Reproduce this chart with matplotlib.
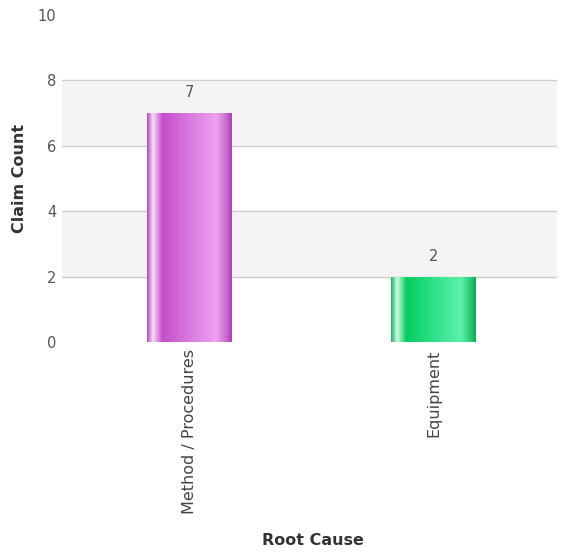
import numpy as np
import matplotlib
matplotlib.use("Agg")
import matplotlib.pyplot as plt
from matplotlib.colors import LinearSegmentedColormap

categories = ["Method / Procedures", "Equipment"]
claim_counts = [7, 2]
y_ticks = [0, 2, 4, 6, 8, 10]

# horizontal gradient stops for the glossy bars
purple_stops = [(0.0, "#b44ac0"), (0.07, "#f6dcf6"), (0.18, "#c64ccc"),
                (0.5, "#d87ade"), (0.82, "#eca2ee"), (0.94, "#c866cf"), (1.0, "#a940b4")]
green_stops = [(0.0, "#14b862"), (0.07, "#d4fae4"), (0.18, "#02cc5c"),
               (0.5, "#2fe08a"), (0.82, "#5cf2ac"), (0.94, "#22cc72"), (1.0, "#0ea855")]
bar_stops = [purple_stops, green_stops]

fig = plt.figure(figsize=(5.63, 5.52), dpi=100)
ax = fig.add_axes([0.110, 0.380, 0.879, 0.593])

xlim = (-0.52, 1.505)

# alternating bands
for lo in [2, 6]:
    ax.axhspan(lo, lo + 2, color="#f4f4f4", zorder=0, lw=0)
for yv in [2, 4, 6, 8]:
    ax.axhline(yv, color="#cccccc", lw=1.0, zorder=1)

x = np.arange(len(categories))
width = 0.345
bars = ax.bar(x, claim_counts, width=width, color="none", edgecolor="none", zorder=2)
grad = np.linspace(0, 1, 256).reshape(1, -1)
for b, stops, val in zip(bars, bar_stops, claim_counts):
    cmap = LinearSegmentedColormap.from_list("g", stops)
    x0 = b.get_x()
    im = ax.imshow(grad, cmap=cmap, aspect="auto", extent=[x0, x0 + b.get_width(), 0, b.get_height()],
                   zorder=3, interpolation="bilinear")
    im.set_clip_path(b)
    ax.text(b.get_x() + b.get_width() / 2, val + 0.4, str(val), ha="center", va="bottom",
            fontsize=10.5, color="#555555")

ax.set_xlim(*xlim)
ax.set_ylim(0, 10)

for s in ax.spines.values():
    s.set_visible(False)
ax.set_yticks(y_ticks)
ax.set_yticklabels([str(t) for t in y_ticks], fontsize=10.5, color="#555555")
ax.set_xticks(x)
ax.set_xticklabels(categories, rotation=90, fontsize=11.5, color="#444444")
ax.tick_params(axis="y", length=0, pad=4)
ax.tick_params(axis="x", length=0, pad=5)

ax.set_ylabel("Claim Count", fontsize=11.5, fontweight="bold", color="#333333")
ax.yaxis.set_label_coords(-0.07, 0.5)
fig.text(0.555, 0.012, "Root Cause", ha="center", fontsize=11.5, fontweight="bold", color="#333333")

fig.savefig("out.png", dpi=100, facecolor="white")
